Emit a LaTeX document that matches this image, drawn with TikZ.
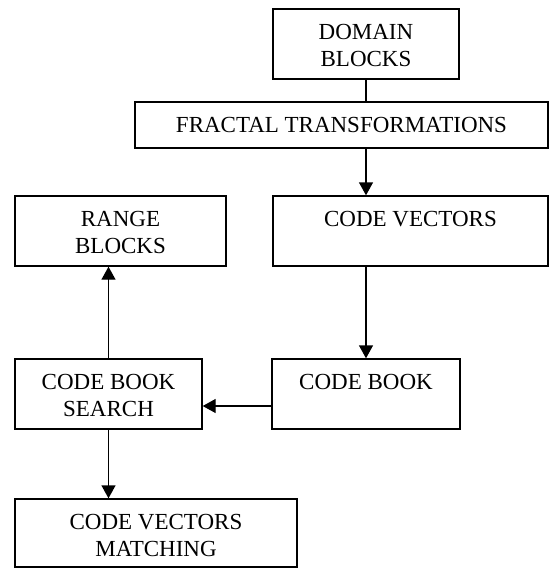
\documentclass[tikz,border=0pt]{standalone}
\usepackage{fontspec}
\setmainfont{Liberation Serif}
\usetikzlibrary{arrows.meta}
\begin{document}
\begin{tikzpicture}[x=1pt,y=-1pt,
 box/.style={draw,line width=1.4pt,inner sep=0pt},
 txt/.style={anchor=north,inner sep=0pt,align=center,font=\fontsize{23}{27}\selectfont},
 arr/.style={line width=1.4pt,-{Triangle[length=13pt,width=14pt]}},
 ln/.style={line width=1.4pt}]
\useasboundingbox (0,0) rectangle (550,568);
\node[box,minimum width=186pt,minimum height=70pt] (dom) at (366,44) {};
\node[box,minimum width=413pt,minimum height=46pt] (frac) at (341.5,125) {};
\node[box,minimum width=275pt,minimum height=70pt] (cv) at (410.5,231) {};
\node[box,minimum width=211pt,minimum height=70pt] (rng) at (120.5,231) {};
\node[box,minimum width=188pt,minimum height=70pt] (cb) at (366,394) {};
\node[box,minimum width=187pt,minimum height=70pt] (cbs) at (108.5,394) {};
\node[box,minimum width=282pt,minimum height=68pt] (cvm) at (156,533) {};
\node[txt] (domt) at ([yshift=-16pt]dom.north) {DOMAIN\\BLOCKS};
\node[txt] (fract) at ([yshift=-16pt]frac.north) {FRACTAL TRANSFORMATIONS};
\node[txt] (cvt) at ([yshift=-16pt]cv.north) {CODE VECTORS};
\node[txt] (rngt) at ([yshift=-16pt]rng.north) {RANGE\\BLOCKS};
\node[txt] (cbt) at ([yshift=-16pt]cb.north) {CODE BOOK};
\node[txt] (cbst) at ([yshift=-16pt]cbs.north) {CODE BOOK\\SEARCH};
\node[txt] (cvmt) at ([yshift=-16pt]cvm.north) {CODE VECTORS\\MATCHING};
\draw[ln] (dom.south) -- (dom.south |- frac.north);
\draw[arr] (dom.south |- frac.south) -- (dom.south |- cv.north);
\draw[arr] (cb.north |- cv.south) -- (cb.north);
\draw[arr] ([yshift=-12pt]cb.west) -- ([yshift=-12pt]cb.west -| cbs.east);
\draw[arr] (cbs.north) -- (cbs.north |- rng.south);
\draw[arr] (cbs.south) -- (cbs.south |- cvm.north);
\end{tikzpicture}
\end{document}
